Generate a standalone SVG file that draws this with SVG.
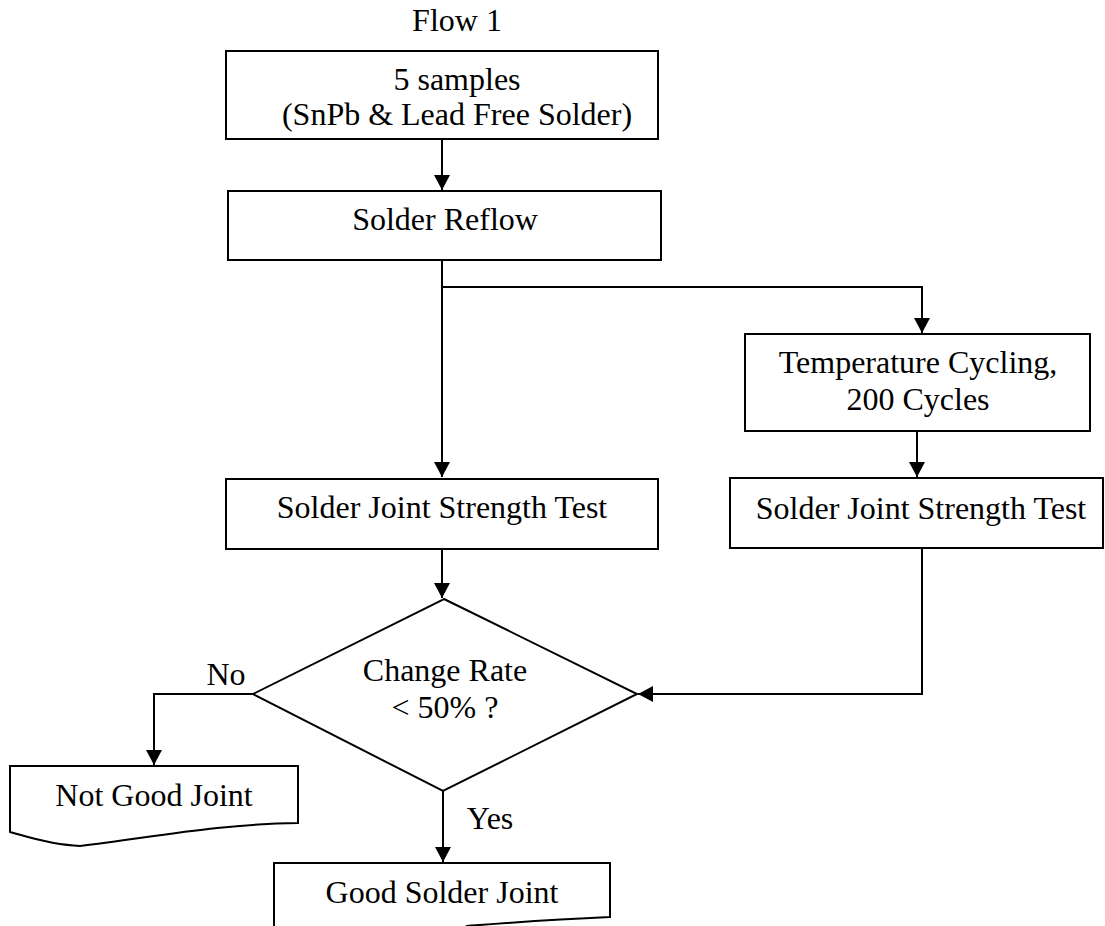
<svg xmlns="http://www.w3.org/2000/svg" width="1105" height="926" viewBox="0 0 1105 926">
<style>
.b{fill:#fff;stroke:#000;stroke-width:2}
.t{font-family:"Liberation Serif","Times New Roman",serif;font-size:32px;fill:#000;text-anchor:middle}
.c{fill:none;stroke:#000;stroke-width:2}
</style>
<defs>
<marker id="ah" markerUnits="userSpaceOnUse" markerWidth="16" markerHeight="16" viewBox="0 0 16 16" refX="15" refY="8" orient="auto">
<path d="M0,0 L15,8 L0,16 Z" fill="#000"/>
</marker>
</defs>
<rect width="1105" height="926" fill="#fff"/>
<text class="t" x="457" y="31">Flow 1</text>
<g id="connectors">
<path class="c" d="M442,139 V190" marker-end="url(#ah)"/>
<path class="c" d="M442,260 V477" marker-end="url(#ah)"/>
<path class="c" d="M442,287 H922 V333" marker-end="url(#ah)"/>
<path class="c" d="M917,431 V477" marker-end="url(#ah)"/>
<path class="c" d="M442,549 V598" marker-end="url(#ah)"/>
<path class="c" d="M922,548 V694 H638" marker-end="url(#ah)"/>
<path class="c" d="M253,694 H154 V765" marker-end="url(#ah)"/>
<path class="c" d="M443,791 V862" marker-end="url(#ah)"/>
</g>
<g id="n1"><rect class="b" x="226" y="51" width="432" height="88"/>
<text class="t" x="457" y="90">5 samples</text>
<text class="t" x="457" y="125">(SnPb &amp; Lead Free Solder)</text></g>
<g id="n2"><rect class="b" x="228" y="191" width="433" height="69"/>
<text class="t" x="445" y="230">Solder Reflow</text></g>
<g id="n3"><rect class="b" x="745" y="334" width="345" height="97"/>
<text class="t" x="918" y="373">Temperature Cycling,</text>
<text class="t" x="918" y="410">200 Cycles</text></g>
<g id="n4"><rect class="b" x="226" y="479" width="432" height="70"/>
<text class="t" x="442" y="518">Solder Joint Strength Test</text></g>
<g id="n5"><rect class="b" x="730" y="478" width="373" height="70"/>
<text class="t" x="921" y="519">Solder Joint Strength Test</text></g>
<g id="n6"><polygon class="b" points="444,599 637,694 443,791 253,694"/>
<text class="t" x="445" y="681">Change Rate</text>
<text class="t" x="445" y="718">&lt; 50% ?</text></g>
<g id="n7"><path class="b" d="M10,766 H298 V823 C220,824 160,836 80,846 C50,845 25,836 10,832 Z"/>
<text class="t" x="154" y="806">Not Good Joint</text></g>
<g id="n8"><path class="b" d="M274,863 H610 V917 C540,920 480,925 467,926 L460,930 C400,935 320,935 274,930 Z"/>
<text class="t" x="442" y="903">Good Solder Joint</text></g>
<text class="t" x="226" y="685">No</text>
<text class="t" x="490" y="829">Yes</text>
</svg>
